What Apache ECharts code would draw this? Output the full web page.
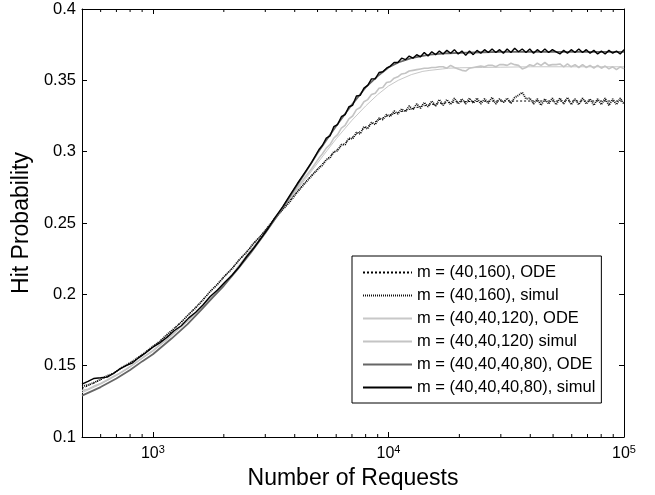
<!DOCTYPE html>
<html><head><meta charset="utf-8">
<script src="https://cdn.jsdelivr.net/npm/echarts@6/dist/echarts.min.js"></script>
<style>html,body{margin:0;padding:0;background:#fff}#c{width:655px;height:495px}</style>
</head><body><div id="c"></div>
<script>
const FONT = '"Liberation Sans", Arial, Helvetica, sans-serif';
const seriesNames = ['m = (40,160), ODE','m = (40,160), simul','m = (40,40,120), ODE','m = (40,40,120) simul','m = (40,40,40,80), ODE','m = (40,40,40,80), simul'];

const odeN = [500,600,700,800,900,1000,1200,1400,1600,1800,2000,2300,2600,3000,3500,4000,4500,5000,5500,6000,7000,8000,9000,10000,11000,12500,14000,15000,17000,18000,20000,25000,30000,40000,60000,100000];
const odeA = [.129,.135,.141,.147,.153,.158,.169,.179,.189,.198,.206,.218,.229,.243,.259,.274,.287,.299,.309,.318,.333,.345,.353,.359,.3625,.3655,.3672,.368,.3687,.369,.3693,.3697,.3699,.370,.370,.370];
const odeC = [.131,.137,.143,.149,.155,.160,.171,.181,.190,.199,.207,.219,.230,.243,.258,.271,.282,.292,.301,.309,.322,.332,.340,.346,.350,.354,.3563,.357,.358,.3585,.3588,.359,.3592,.3595,.3595,.3595];
const odeE = [.134,.140,.146,.152,.157,.163,.174,.185,.195,.204,.212,.223,.233,.245,.258,.270,.280,.288,.295,.301,.310,.317,.322,.3255,.3275,.330,.332,.3328,.334,.3344,.335,.3353,.3355,.3355,.3355,.3355];

const simN = [500,530,560,600,640,680,720,770,820,870,
930,1000,1070,1150,1230,1320,1420,1520,1630,1750,
1880,2020,2170,2330,2500,2680,2880,3090,3320,3560,
3820,4100,4400,4720,5070,
5248,5445,5649,5861,6081,6310,6546,6792,7047,7311,
7586,7870,8166,8472,8790,9120,9462,9817,10186,10568,
10965,11376,11803,12246,12706,13183,13677,14191,14723,15276,
15849,16444,17061,17701,18365,19055,19770,20512,21281,22080,
22909,23768,24660,25586,26546,27542,28576,29648,30761,31915,
33113,34356,35645,36983,38371,39811,41305,42855,44463,46132,
47863,49659,51523,53456,55463,57544,59704,61944,64269,66681,
69183,71779,74473,77268,80168,83176,86298,89536,92897,96383,
100000];
const simB = [.137,.139,.141,.1415,.142,.1445,.1475,.150,.152,.1555,
.159,.163,.166,.170,.1745,.178,.1835,.1875,.1925,.1985,
.203,.2085,.2135,.2195,.2265,.2325,.2395,.2465,.2545,.2615,
.2695,.2775,.285,.2925,.3015,
.3045,.3095,.311,.3175,.319,.3245,.326,.3315,.3325,.339,
.3395,.3445,.3465,.351,.351,.3555,.356,.3585,.360,.3625,
.3625,.3655,.3645,.367,.3655,.368,.3665,.3695,.367,.370,
.368,.3705,.3685,.371,.369,.3715,.3685,.3705,.3675,.3705,
.368,.371,.369,.3715,.3695,.372,.3695,.3715,.369,.372,
.3695,.3725,.370,.372,.3695,.372,.369,.3715,.3695,.372,
.3695,.3715,.370,.3685,.371,.369,.3715,.3695,.372,.3695,
.3715,.369,.371,.3685,.3705,.3685,.371,.369,.3705,.3685,
.3715];
const simD = [.1325,.1335,.1355,.1375,.140,.1425,.1445,.1475,.1505,.1535,
.157,.1605,.1645,.1685,.173,.1775,.1825,.187,.192,.1975,
.2025,.208,.2135,.2205,.227,.2335,.2395,.2465,.2535,.2605,
.2675,.2745,.2815,.288,.2955,
.2985,.3025,.305,.3095,.312,.3165,.3185,.323,.325,.3295,
.331,.335,.3365,.340,.341,.3445,.345,.3485,.349,.3515,
.3525,.3545,.355,.3565,.357,.3575,.358,.3585,.3585,.359,
.359,.3595,.3595,.3585,.3605,.359,.358,.357,.3565,.3585,
.359,.3595,.360,.3595,.3605,.3605,.3595,.361,.361,.3605,
.362,.361,.3605,.358,.359,.361,.360,.362,.3605,.3625,
.3605,.361,.361,.3615,.3595,.3615,.3595,.361,.359,.361,
.359,.3605,.3585,.3605,.3585,.360,.358,.3595,.3575,.3595,
.358];
const simF = [.1355,.1365,.138,.1405,.143,.1445,.1475,.1505,.153,.156,
.1595,.1635,.167,.172,.176,.1805,.186,.1905,.196,.202,
.207,.213,.218,.2245,.2295,.236,.241,.2475,.254,.2595,
.265,.2715,.2775,.283,.2885,
.2905,.2945,.2955,.300,.3005,.305,.305,.3095,.309,.3135,
.3125,.3175,.316,.3205,.319,.3235,.3225,.326,.3245,.3285,
.3265,.330,.328,.332,.3295,.3335,.3305,.3345,.3315,.3355,
.332,.3365,.3325,.3365,.333,.3375,.3335,.337,.3335,.3375,
.334,.3375,.3335,.337,.334,.338,.3335,.337,.3345,.3375,
.334,.338,.3395,.3415,.337,.3375,.3335,.337,.3325,.337,
.3335,.3375,.333,.3375,.3335,.338,.333,.337,.333,.3375,
.3335,.337,.3325,.337,.333,.3375,.3325,.337,.333,.3375,
.3335];

const xMinorTicks = [600,700,800,900,2000,3000,4000,5000,6000,7000,8000,9000,20000,30000,40000,50000,60000,70000,80000,90000];
const xMin = 500, xMax = 100000, yMin = 0.1, yMax = 0.4, yStep = 0.05;

const pairs = (xs, ys) => xs.map((x, i) => [x, ys[i]]);

const chart = echarts.init(document.getElementById('c'), null, {renderer: 'canvas'});
const axisLineStyle = {color: '#000', width: 1};
const baseX = {
  type: 'log', logBase: 10, min: xMin, max: xMax,
  axisLine: {show: true, onZero: false, lineStyle: axisLineStyle},
  axisTick: {show: true, inside: true, length: 5, lineStyle: axisLineStyle},
  splitLine: {show: false}, minorTick: {show: false}
};
const baseY = {
  type: 'value', min: yMin, max: yMax, interval: yStep,
  axisLine: {show: true, onZero: false, lineStyle: axisLineStyle},
  axisTick: {show: true, inside: true, length: 5, lineStyle: axisLineStyle},
  splitLine: {show: false}
};

function lineSeries(name, xs, ys, color, width, type, z) {
  return {
    name, type: 'line', data: pairs(xs, ys), symbol: 'none', showSymbol: false,
    lineStyle: {color, width, type}, itemStyle: {color}, z, animation: false,
    xAxisIndex: 0, yAxisIndex: 0
  };
}

chart.setOption({
  animation: false,
  backgroundColor: '#fff',
  grid: {left: 82, right: 31, top: 9, bottom: 58, containLabel: false},
  xAxis: [
    Object.assign({}, baseX, {
      position: 'bottom',
      name: 'Number of Requests', nameLocation: 'middle', nameGap: 26,
      nameTextStyle: {fontSize: 23, color: '#000', fontFamily: FONT},
      axisLabel: {
        show: true, margin: 7, color: '#000',
        formatter: v => { const e = Math.log10(v); const r = Math.round(e); return Math.abs(e - r) < 1e-6 ? '{b|10}{s|' + r + '}' : ''; },
        rich: {
          b: {fontSize: 16, fontFamily: FONT, color: '#000'},
          s: {fontSize: 11, fontFamily: FONT, color: '#000', padding: [0, 0, 9, 0]}
        }
      }
    }),
    Object.assign({}, baseX, {position: 'top', axisLabel: {show: false}})
  ],
  yAxis: [
    Object.assign({}, baseY, {
      position: 'left',
      name: 'Hit Probability', nameLocation: 'middle', nameGap: 43, nameRotate: 90,
      nameTextStyle: {fontSize: 23, color: '#000', fontFamily: FONT},
      axisLabel: {show: true, margin: 6, fontSize: 16.5, color: '#000', fontFamily: FONT}
    }),
    Object.assign({}, baseY, {position: 'right', axisLabel: {show: false}})
  ],
  legend: {
    show: true, orient: 'vertical', left: 352, top: 256,
    data: seriesNames,
    itemWidth: 49, itemHeight: 12, itemGap: 6, itemTextGap: 6,
    padding: [8, 6, 7, 10],
    borderColor: '#000', borderWidth: 1, backgroundColor: '#fff',
    itemStyle: {opacity: 0, borderWidth: 0},
    textStyle: {fontSize: 16.5, fontFamily: FONT, color: '#000'},
    selectedMode: false
  },
  series: [
    lineSeries(seriesNames[0], odeN, odeE, '#000', 1, [2, 2], 3),
    lineSeries(seriesNames[1], simN, simF, '#111', 1.8, [1, 1], 4),
    lineSeries(seriesNames[2], odeN, odeC, '#c8c8c8', 1, 'solid', 2),
    lineSeries(seriesNames[3], simN, simD, '#c4c4c4', 1.6, 'solid', 2),
    lineSeries(seriesNames[4], odeN, odeA, '#666', 1.8, 'solid', 5),
    lineSeries(seriesNames[5], simN, simB, '#000', 1.4, 'solid', 6),
    {
      type: 'custom', silent: true, xAxisIndex: 0, yAxisIndex: 0, z: 10,
      data: xMinorTicks.map(v => [v, yMin]),
      encode: {x: 0, y: 1},
      renderItem: (params, api) => {
        const x = api.value(0);
        const pb = api.coord([x, yMin]);
        const pt = api.coord([x, yMax]);
        return {type: 'group', children: [
          {type: 'line', shape: {x1: pb[0], y1: pb[1], x2: pb[0], y2: pb[1] - 3}, style: {stroke: '#000', lineWidth: 1}},
          {type: 'line', shape: {x1: pt[0], y1: pt[1], x2: pt[0], y2: pt[1] + 3}, style: {stroke: '#000', lineWidth: 1}}
        ]};
      }
    }
  ]
});
</script>
</body></html>
